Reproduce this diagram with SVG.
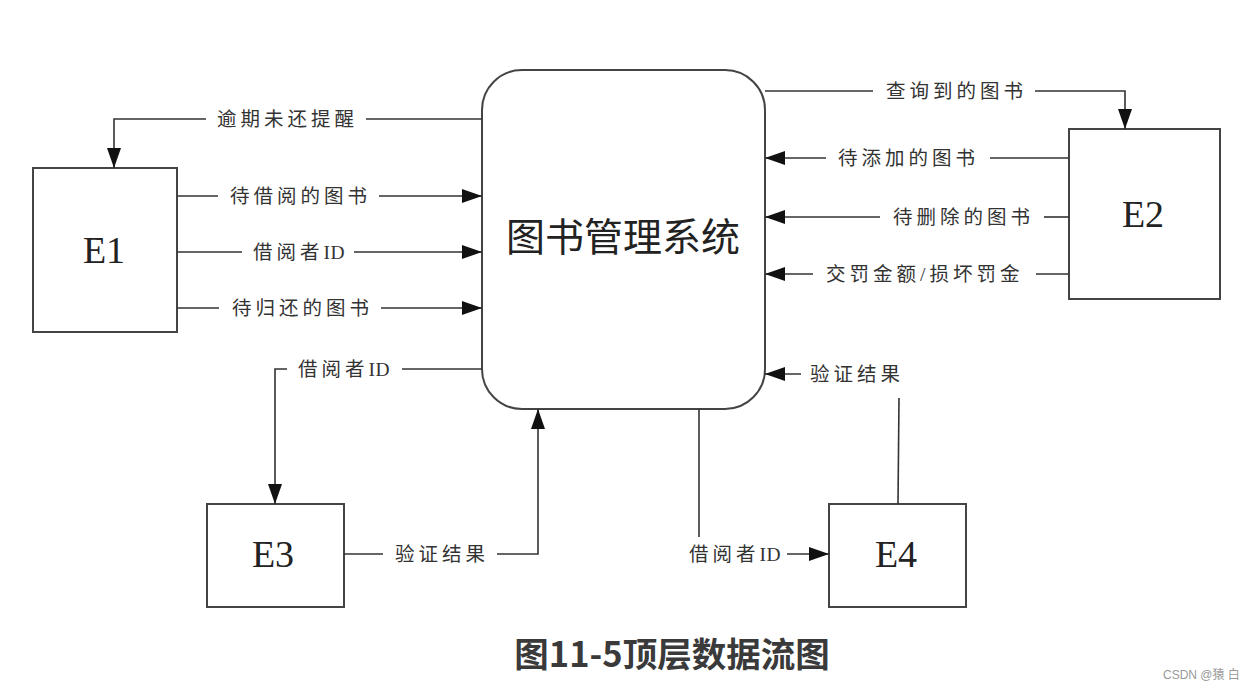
<svg xmlns="http://www.w3.org/2000/svg" width="1253" height="689" viewBox="0 0 1253 689">
<defs>
<marker id="arr" markerUnits="userSpaceOnUse" markerWidth="22" markerHeight="16" refX="20" refY="7.5" orient="auto">
<path d="M0,0.5 L20,7.5 L0,14.5 z" fill="#111"/>
</marker>
<style>
.box{fill:#fff;stroke:#444;stroke-width:2}
.ln{fill:none;stroke:#333;stroke-width:1.6}
.lbl{font-family:"Liberation Serif","Noto Sans CJK SC",serif;font-size:19.5px;fill:#333;letter-spacing:4px}
.id{letter-spacing:0.5px}
.ent{font-family:"Liberation Serif","Noto Sans CJK SC",serif;font-size:38px;fill:#222;text-anchor:middle}
</style>
</defs>
<rect width="1253" height="689" fill="#fff"/>

<g id="system">
<rect class="box" x="482" y="70" width="283" height="339" rx="40" ry="40"/>
<text x="623" y="251" font-family="'Noto Sans CJK SC',sans-serif" font-size="39" fill="#222" text-anchor="middle">图书管理系统</text>
</g>
<g id="E1">
<rect class="box" x="33" y="168" width="144" height="164"/>
<text class="ent" x="104" y="263">E1</text>
</g>
<g id="E2">
<rect class="box" x="1069" y="129" width="151" height="170"/>
<text class="ent" x="1143" y="227">E2</text>
</g>
<g id="E3">
<rect class="box" x="207" y="504" width="137" height="103"/>
<text class="ent" x="273" y="567">E3</text>
</g>
<g id="E4">
<rect class="box" x="829" y="504" width="137" height="103"/>
<text class="ent" x="896" y="567">E4</text>
</g>

<g id="connectors">
<path class="ln" d="M482,119 H366"/>
<path class="ln" d="M206,119 H114 V168" marker-end="url(#arr)"/>
<text class="lbl" x="217" y="126">逾期未还提醒</text>

<path class="ln" d="M177,196 H218"/>
<path class="ln" d="M379,196 H482" marker-end="url(#arr)"/>
<text class="lbl" x="230" y="203">待借阅的图书</text>

<path class="ln" d="M177,252 H242"/>
<path class="ln" d="M354,252 H482" marker-end="url(#arr)"/>
<text class="lbl" x="253" y="259">借阅者<tspan class="id">ID</tspan></text>

<path class="ln" d="M177,308 H219"/>
<path class="ln" d="M381,308 H482" marker-end="url(#arr)"/>
<text class="lbl" x="232" y="315">待归还的图书</text>

<path class="ln" d="M765,91 H873"/>
<path class="ln" d="M1035,91 H1125 V129" marker-end="url(#arr)"/>
<text class="lbl" x="886" y="98">查询到的图书</text>

<path class="ln" d="M1069,158 H990"/>
<path class="ln" d="M826,158 H765" marker-end="url(#arr)"/>
<text class="lbl" x="838" y="165">待添加的图书</text>

<path class="ln" d="M1069,217 H1044"/>
<path class="ln" d="M880,217 H765" marker-end="url(#arr)"/>
<text class="lbl" x="893" y="224">待删除的图书</text>

<path class="ln" d="M1069,274 H1036"/>
<path class="ln" d="M813,274 H765" marker-end="url(#arr)"/>
<text class="lbl" x="826" y="281">交罚金额/损坏罚金</text>

<path class="ln" d="M482,369 H402"/>
<path class="ln" d="M287,369 H275 V504" marker-end="url(#arr)"/>
<text class="lbl" x="298" y="376">借阅者<tspan class="id">ID</tspan></text>

<path class="ln" d="M344,554 H383"/>
<path class="ln" d="M497,554 H538 V409" marker-end="url(#arr)"/>
<text class="lbl" x="395" y="561">验证结果</text>

<path class="ln" d="M699,409 V537"/>
<path class="ln" d="M787,554 H829" marker-end="url(#arr)"/>
<text class="lbl" x="689" y="561">借阅者<tspan class="id">ID</tspan></text>

<path class="ln" d="M898,504 L899,398"/>
<path class="ln" d="M801,374 H765" marker-end="url(#arr)"/>
<text class="lbl" x="810" y="381">验证结果</text>
</g>

<text x="672" y="667" font-family="'Noto Sans CJK SC',sans-serif" font-weight="bold" font-size="34.5" fill="#3a3a3a" text-anchor="middle">图11-5顶层数据流图</text>
<text x="1163" y="679" font-family="'Liberation Sans','Noto Sans CJK SC',sans-serif" font-size="12" fill="#999">CSDN @猿 白</text>
</svg>
